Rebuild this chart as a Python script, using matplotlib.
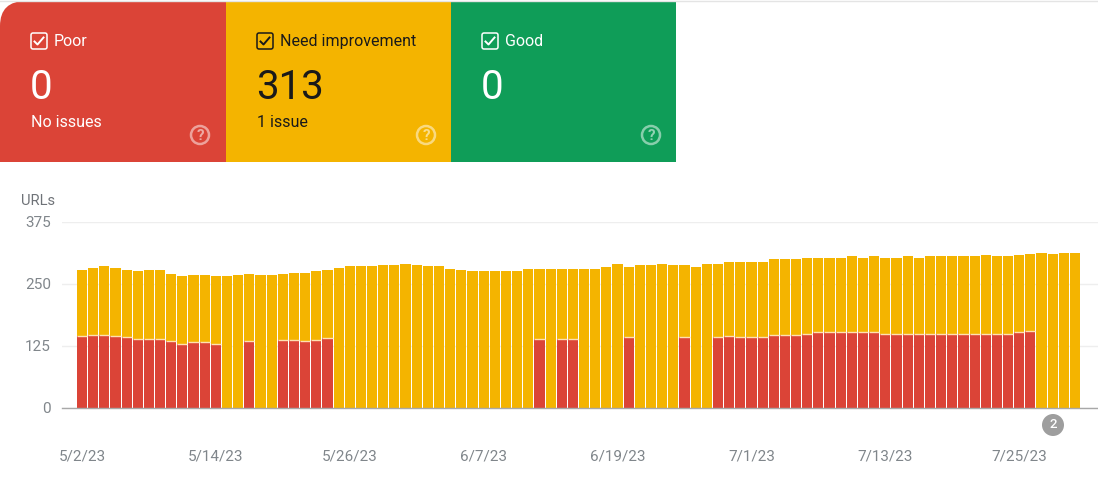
import numpy as np
import matplotlib
matplotlib.use("Agg")
import matplotlib.pyplot as plt
from matplotlib.patches import Circle, Rectangle, PathPatch, FancyBboxPatch
from matplotlib.path import Path

plt.rcParams['font.family'] = ['Roboto', 'DejaVu Sans']

# total URLs per day
totals = [278, 282, 286, 283, 278, 275, 278, 278, 270, 265, 268, 268, 265, 265, 268,
          270, 268, 268, 270, 272, 272, 275, 278, 282, 286, 286, 286, 288, 288, 290,
          288, 286, 286, 280, 278, 275, 275, 275, 275, 275, 280, 280, 280, 280, 280,
          280, 280, 285, 290, 285, 288, 288, 290, 288, 288, 285, 290, 290, 295, 295,
          295, 295, 300, 300, 300, 303, 303, 303, 303, 306, 303, 306, 303, 303, 306,
          303, 306, 306, 306, 306, 306, 308, 306, 306, 308, 310, 313, 311, 313, 313]

# poor URLs per day, 0 where the day has no red part
poor = [144, 147, 147, 145, 143, 139, 139, 139, 135, 129, 132, 132, 129, 0, 0,
        135, 0, 0, 136, 136, 134, 136, 140, 0, 0, 0, 0, 0, 0, 0,
        0, 0, 0, 0, 0, 0, 0, 0, 0, 0, 0, 139, 0, 139, 139,
        0, 0, 0, 0, 143, 0, 0, 0, 0, 143, 0, 0, 142, 145, 143,
        143, 143, 147, 147, 147, 149, 152, 152, 152, 152, 152, 152, 149, 149, 149,
        149, 149, 149, 149, 149, 149, 149, 149, 149, 152, 155, 0, 0, 0, 0]

y_ticks = [0, 125, 250, 375]
x_positions = [0, 12, 24, 36, 48, 60, 72, 84]
x_labels = ["5/2/23", "5/14/23", "5/26/23", "6/7/23", "6/19/23", "7/1/23", "7/13/23", "7/25/23"]

card_names = ["Poor", "Need improvement", "Good"]
card_values = ["0", "313", "0"]
card_notes = ["No issues", "1 issue", ""]
card_colors = ["#DB4437", "#F4B400", "#0F9D58"]
card_text = ["white", "#1a1a1a", "white"]

RED, YELLOW = card_colors[0], card_colors[1]
W, H = 1098, 478
GREY = "#80868b"

fig = plt.figure(figsize=(W / 100, H / 100), dpi=100, facecolor="white")

# chart, placed by pixel position
ax = fig.add_axes([62 / W, 1 - 407.5 / H, (W - 62) / W, 185.5 / H])
x = np.arange(len(totals))
totals = np.array(totals)
poor = np.array(poor)
ax.bar(x, totals, width=0.91, color=YELLOW, zorder=3)
ax.bar(x, poor, width=0.91, color=RED, zorder=4)
has_poor = poor > 0
ax.hlines(poor[has_poor], x[has_poor] - 0.455, x[has_poor] + 0.455, color="#ffe0b0", lw=1, zorder=5)

ax.set_xlim(-1.79, 91.06)
ax.set_ylim(0, 375)
ax.set_yticks(y_ticks)
ax.set_xticks(x_positions)
ax.set_xticklabels(x_labels)
ax.grid(axis="y", color="#eeeeee", lw=1, zorder=0)
ax.tick_params(axis="both", length=0, labelsize=11, labelcolor=GREY)
ax.tick_params(axis="x", pad=30)
ax.tick_params(axis="y", pad=8)
for s in ["top", "right", "left"]:
    ax.spines[s].set_visible(False)
ax.spines["bottom"].set_color("#a8a8a8")
ax.spines["bottom"].set_linewidth(1)
ax.spines["bottom"].set_zorder(6)
ax.patch.set_alpha(0)

# overlay in pixel coordinates for the cards and small marks
ov = fig.add_axes([0, 0, 1, 1], zorder=5)
ov.set_xlim(0, W)
ov.set_ylim(H, 0)
ov.axis("off")

ov.plot([0, W], [0.5, 0.5], color="#e4e4e4", lw=1)
ov.text(21, 201, "URLs", fontsize=10.6, color="#6f7378", va="center")

card_left = [0, 226, 451]
card_right = [226, 451, 676]
for i in range(3):
    l, r = card_left[i], card_right[i]
    if i == 0:
        # rounded top left corner
        verts = [(0, 162), (0, 26), (0, 1), (26, 1), (r, 1), (r, 162), (0, 162)]
        codes = [Path.MOVETO, Path.LINETO, Path.CURVE3, Path.CURVE3, Path.LINETO, Path.LINETO, Path.CLOSEPOLY]
        ov.add_patch(PathPatch(Path(verts, codes), fc=card_colors[i], ec="none"))
    else:
        ov.add_patch(Rectangle((l, 1), r - l, 161, fc=card_colors[i], ec="none"))
    c = card_text[i]
    # checkbox
    bx = l + 31
    ov.add_patch(FancyBboxPatch((bx + 2, 35), 12, 12, boxstyle="round,pad=2,rounding_size=2",
                                fc="none", ec=c, lw=1.1))
    ov.plot([bx + 3.5, bx + 6.5, bx + 12.5], [41.5, 44.5, 37.5], color=c, lw=1.4)
    ov.text(l + 54, 41.5, card_names[i], fontsize=11.5, color=c, va="center")
    ov.text(l + 30, 87, card_values[i], fontsize=29, color=c, va="center")
    if card_notes[i]:
        ov.text(l + 31, 122.5, card_notes[i], fontsize=11.5, color=c, va="center")
    # help icon
    ov.add_patch(Circle((l + 200, 135), 9, fc="none", ec="white", lw=1.8, alpha=0.5))
    ov.text(l + 200, 135.5, "?", fontsize=11, color="white", alpha=0.55, ha="center", va="center", weight="bold")

# annotation badge under the axis
ov.add_patch(Circle((1053, 425), 11, fc="#9e9e9e", ec="none"))
ov.text(1053, 424.5, "2", fontsize=9.5, color="white", ha="center", va="center", weight="medium")

plt.savefig("out.png", dpi=100)
